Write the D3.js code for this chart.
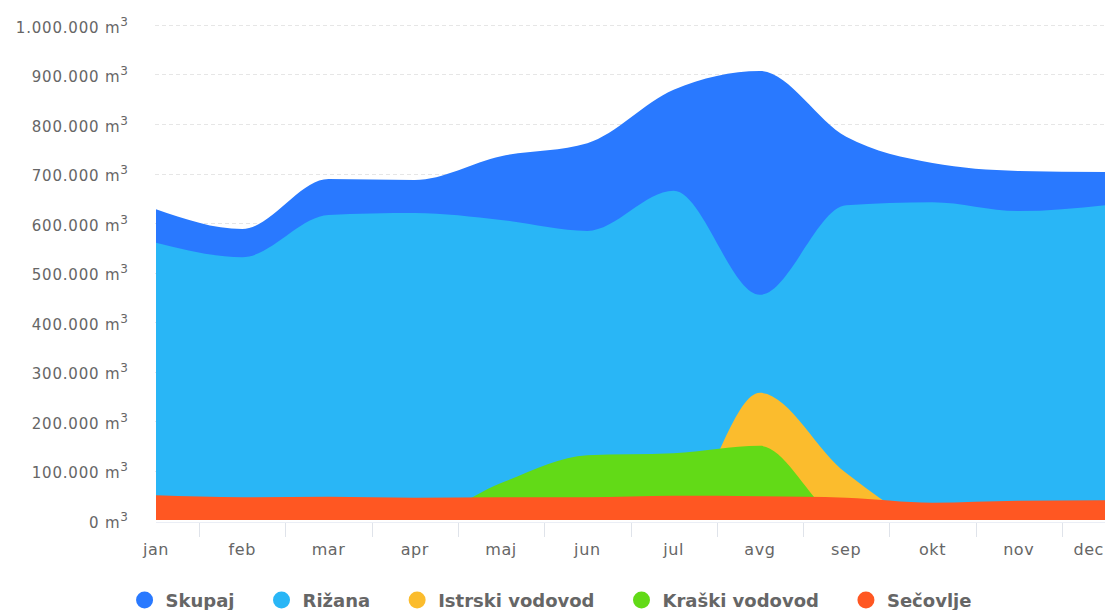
<!DOCTYPE html>
<html>
<head>
<meta charset="utf-8">
<script src="https://cdn.jsdelivr.net/npm/d3@7"></script>
<style>
  body { margin: 0; background: #fff; }
  svg { display: block; font-family: "DejaVu Sans", sans-serif; }
</style>
</head>
<body>
<svg width="1107" height="610"></svg>
<script>
// months on the x axis
var months = ["jan", "feb", "mar", "apr", "maj", "jun", "jul", "avg", "sep", "okt", "nov", "dec"];

// monthly volumes in m3
var skupaj   = [628000, 588000, 689000, 687000, 735000, 761000, 869000, 907000, 774000, 721000, 705000, 703000];
var rizana   = [560000, 531000, 616000, 620000, 606000, 584000, 665000, 455000, 636000, 642000, 624000, 636000];
var istrski  = [0, 0, 0, 0, 0, 0, 0, 257000, 95000, 0, 0, 0];
var kraski   = [0, 0, 0, 0, 75000, 131000, 135000, 150000, 0, 0, 0, 0];
var secovlje = [50000, 46000, 47000, 45000, 46000, 46000, 49000, 48000, 45000, 35000, 39000, 40000];

var seriesNames  = ["Skupaj", "Rižana", "Istrski vodovod", "Kraški vodovod", "Sečovlje"];
var seriesValues = [skupaj, rizana, istrski, kraski, secovlje];
var seriesColors = ["#2979ff", "#29b6f6", "#fbbc2d", "#62da17", "#ff5722"];

var yTicks = d3.range(0, 1000001, 100000);

var svg = d3.select("svg"),
    width = +svg.attr("width"),
    height = +svg.attr("height");

// plot box
var plotLeft = 156, plotRight = 1105, plotTop = 25, plotBottom = 520;

var x = d3.scalePoint().domain(months).range([plotLeft, plotRight]);
var y = d3.scaleLinear().domain([0, 1000000]).range([plotBottom, plotTop]);

var fmt = d3.formatLocale({ decimal: ",", thousands: ".", grouping: [3], currency: ["", ""] }).format(",d");

// horizontal grid, dashed
svg.append("g")
    .selectAll("line")
    .data(yTicks.filter(function (d) { return d > 0; }))
    .enter().append("line")
    .attr("x1", plotLeft - 1)
    .attr("x2", plotRight)
    .attr("y1", function (d) { return Math.round(y(d)) + 0.5; })
    .attr("y2", function (d) { return Math.round(y(d)) + 0.5; })
    .attr("stroke", "#e6e6e6")
    .attr("stroke-dasharray", "4,3");

// overlapping (not stacked) areas, total at the back
var area = d3.area()
    .x(function (d, i) { return x(months[i]); })
    .y0(y(0))
    .y1(function (d) { return y(d); })
    .curve(d3.curveMonotoneX);

svg.append("g")
    .selectAll("path")
    .data(seriesValues)
    .enter().append("path")
    .attr("d", area)
    .attr("fill", function (d, i) { return seriesColors[i]; });

// y axis labels
var yLabels = svg.append("g")
    .selectAll("text")
    .data(yTicks)
    .enter().append("text")
    .attr("x", 128)
    .attr("y", function (d) { return y(d) + 7.5; })
    .attr("text-anchor", "end")
    .attr("fill", "#666")
    .style("font-size", "15px")
    .style("letter-spacing", "0.8px");

yLabels.append("tspan").text(function (d) { return fmt(d) + " m"; });
yLabels.append("tspan")
    .attr("dy", -7)
    .style("font-size", "12px")
    .style("letter-spacing", "0px")
    .text("3");

// x axis line, ticks between categories and labels
var step = x.step();

svg.append("line")
    .attr("x1", plotLeft)
    .attr("x2", plotRight)
    .attr("y1", plotBottom + 2.5)
    .attr("y2", plotBottom + 2.5)
    .attr("stroke", "#ebeef5");

svg.append("g")
    .selectAll("line")
    .data(months.slice(0, -1))
    .enter().append("line")
    .attr("x1", function (d) { return Math.round(x(d) + step / 2) + 0.5; })
    .attr("x2", function (d) { return Math.round(x(d) + step / 2) + 0.5; })
    .attr("y1", plotBottom + 3)
    .attr("y2", plotBottom + 17)
    .attr("stroke", "#dfe3ea");

svg.append("g")
    .selectAll("text")
    .data(months)
    .enter().append("text")
    .attr("x", function (d, i) { return i === months.length - 1 ? plotRight - 1 : x(d); })
    .attr("y", 555)
    .attr("text-anchor", function (d, i) { return i === months.length - 1 ? "end" : "middle"; })
    .attr("fill", "#666")
    .style("font-size", "16px")
    .style("letter-spacing", "0.6px")
    .text(function (d) { return d; });

// legend, centred under the chart
var legend = svg.append("g").attr("class", "legend");

var items = legend.selectAll("g")
    .data(seriesNames)
    .enter().append("g");

items.append("circle")
    .attr("cx", 9)
    .attr("cy", 600)
    .attr("r", 8.5)
    .attr("fill", function (d, i) { return seriesColors[i]; });

items.append("text")
    .attr("x", 30)
    .attr("y", 606.5)
    .attr("fill", "#666")
    .style("font-size", "18px")
    .style("font-weight", "bold")
    .text(function (d) { return d; });

var pos = 0, offsets = [];
items.each(function () {
    offsets.push(pos);
    var w = d3.select(this).select("text").node().getComputedTextLength();
    pos += 30 + w + 38;
});
var total = pos - 38;
var start = width / 2 - total / 2;
items.attr("transform", function (d, i) { return "translate(" + (start + offsets[i]) + ",0)"; });
</script>
</body>
</html>
